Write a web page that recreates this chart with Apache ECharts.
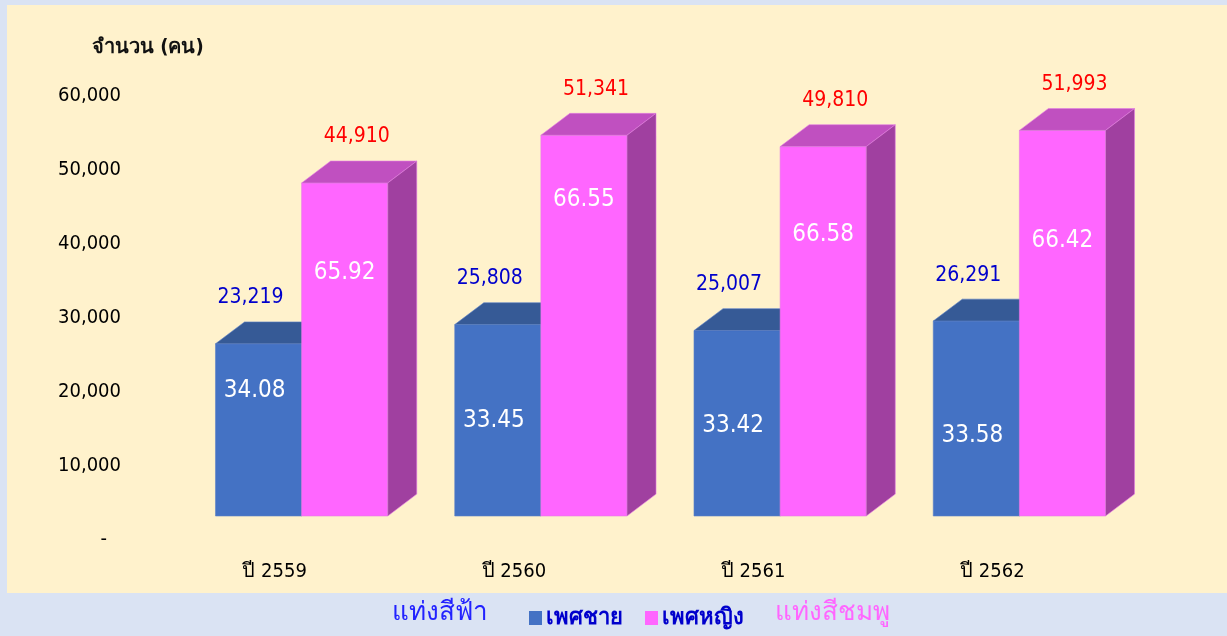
<!DOCTYPE html>
<html>
<head>
<meta charset="utf-8">
<script src="https://cdn.jsdelivr.net/npm/echarts@6/dist/echarts.min.js"></script>
<style>
html,body{margin:0;padding:0;background:#DAE3F3;}
#chart{width:1227px;height:636px;}
</style>
</head>
<body>
<div id="chart"></div>
<script>
// ---- data ----
const categories = ['ปี 2559', 'ปี 2560', 'ปี 2561', 'ปี 2562'];
const maleCount = [23219, 25808, 25007, 26291];
const femaleCount = [44910, 51341, 49810, 51993];
const malePct = [34.08, 33.45, 33.42, 33.58];
const femalePct = [65.92, 66.55, 66.58, 66.42];
const yTicks = [0, 10000, 20000, 30000, 40000, 50000, 60000];
const seriesNames = ['เพศชาย', 'เพศหญิง'];

// ---- layout (where the percentage label sits inside each bar, as a fraction of its height) ----
const malePctLabelFrac = [0.725, 0.50, 0.485, 0.41];
const femalePctLabelFrac = [0.73, 0.83, 0.76, 0.715];

const FONT = "'DejaVu Sans Condensed', 'DejaVu Sans', 'Noto Sans', sans-serif";

function fmt(n) { return n.toLocaleString('en-US'); }

function makeRender(side, colors, pcts, fracs, valueDx, pctDx) {
  return function (params, api) {
    const idx = api.value(0), v = api.value(1);
    const base = api.coord([idx, 0]);
    const top = api.coord([idx, v]);
    const band = api.size([1, 0])[0];
    const w = band * 0.36;
    const dx = w * 0.337, dy = w * 0.254;
    const x0 = side < 0 ? base[0] - w : base[0];
    const x1 = x0 + w;
    const yb = base[1], yt = top[1];
    const cx = (x0 + x1) / 2;
    return {
      type: 'group',
      children: [
        { type: 'rect', shape: { x: x0, y: yt, width: w, height: yb - yt },
          style: { fill: colors.front, stroke: colors.edge, lineWidth: 0.6 } },
        { type: 'polygon', shape: { points: [[x0, yt], [x0 + dx, yt - dy], [x1 + dx, yt - dy], [x1, yt]] },
          style: { fill: colors.top, stroke: colors.edge, lineWidth: 0.6 } },
        { type: 'polygon', shape: { points: [[x1, yt], [x1 + dx, yt - dy], [x1 + dx, yb - dy], [x1, yb]] },
          style: { fill: colors.side, stroke: colors.edge, lineWidth: 0.6 } },
        { type: 'text', x: cx + valueDx, y: yt - dy - 24,
          style: { text: fmt(v), fill: colors.label, font: '21px ' + FONT, align: 'center', verticalAlign: 'middle' } },
        { type: 'text', x: cx + pctDx, y: yb - (yb - yt) * fracs[idx],
          style: { text: pcts[idx].toFixed(2), fill: '#FFFFFF', font: '24px ' + FONT, align: 'center', verticalAlign: 'middle' } }
      ]
    };
  };
}

const maleColors = { front: '#4472C4', top: '#365A96', side: '#2F528F', edge: '#5B80C8', label: '#0000CC' };
const femaleColors = { front: '#FF66FF', top: '#C050C0', side: '#A040A0', edge: '#E27CE2', label: '#FF0000' };

const chart = echarts.init(document.getElementById('chart'), null, { renderer: 'canvas' });

const gridLeft = 182, gridRight = 88;
const option = {
  backgroundColor: '#DAE3F3',
  animation: false,
  graphic: [
    { type: 'rect', left: 7, top: 5, shape: { width: 1220, height: 588 }, style: { fill: '#FFF2CC' }, z: -10 },
    { type: 'text', left: 92, top: 38, style: { text: 'จำนวน (คน)', fill: '#111', font: 'bold 20px ' + FONT } },
    { type: 'text', left: 392, top: 600, style: { text: 'แท่งสีฟ้า', fill: '#2222FF', font: '26px ' + FONT } },
    { type: 'text', left: 775, top: 600, style: { text: 'แท่งสีชมพู', fill: '#FF66FF', font: '26px ' + FONT } }
  ],
  legend: {
    data: seriesNames,
    left: 529, top: 607, padding: 0,
    icon: 'rect', itemWidth: 13, itemHeight: 14, itemGap: 22,
    textStyle: { color: '#0000CC', fontWeight: 'bold', fontSize: 22, fontFamily: FONT, padding: [0, 0, 0, -1] }
  },
  grid: [
    { left: gridLeft, right: gridRight, top: 71, bottom: 120 },
    { left: gridLeft, right: gridRight, top: 96, bottom: 96 }
  ],
  xAxis: [
    { type: 'category', data: categories, gridIndex: 0, show: false },
    { type: 'category', data: categories, gridIndex: 1,
      axisLine: { show: false }, axisTick: { show: false },
      axisLabel: { margin: 22, color: '#000', fontSize: 20, fontFamily: FONT, padding: [0, 54, 0, 0] } }
  ],
  yAxis: [
    { type: 'value', gridIndex: 0, min: 0, max: 60000, interval: 10000, show: false },
    { type: 'value', gridIndex: 1, min: yTicks[0], max: yTicks[yTicks.length - 1], interval: 10000,
      axisLine: { show: false }, axisTick: { show: false }, splitLine: { show: false },
      axisLabel: {
        margin: 61, color: '#000', fontSize: 20, fontFamily: FONT,
        formatter: function (val) { return val === 0 ? '{z|-}' : fmt(val); },
        rich: { z: { fontSize: 20, fontFamily: FONT, color: '#000', padding: [0, 14, 0, 0] } }
      } }
  ],
  series: [
    { name: seriesNames[0], type: 'custom', xAxisIndex: 0, yAxisIndex: 0,
      itemStyle: { color: '#4472C4' },
      data: maleCount.map((v, i) => [i, v]),
      renderItem: makeRender(-1, maleColors, malePct, malePctLabelFrac, -8, -4), z: 2 },
    { name: seriesNames[1], type: 'custom', xAxisIndex: 0, yAxisIndex: 0,
      itemStyle: { color: '#FF66FF' },
      data: femaleCount.map((v, i) => [i, v]),
      renderItem: makeRender(1, femaleColors, femalePct, femalePctLabelFrac, 12, 0), z: 3 }
  ]
};
chart.setOption(option);
</script>
</body>
</html>
